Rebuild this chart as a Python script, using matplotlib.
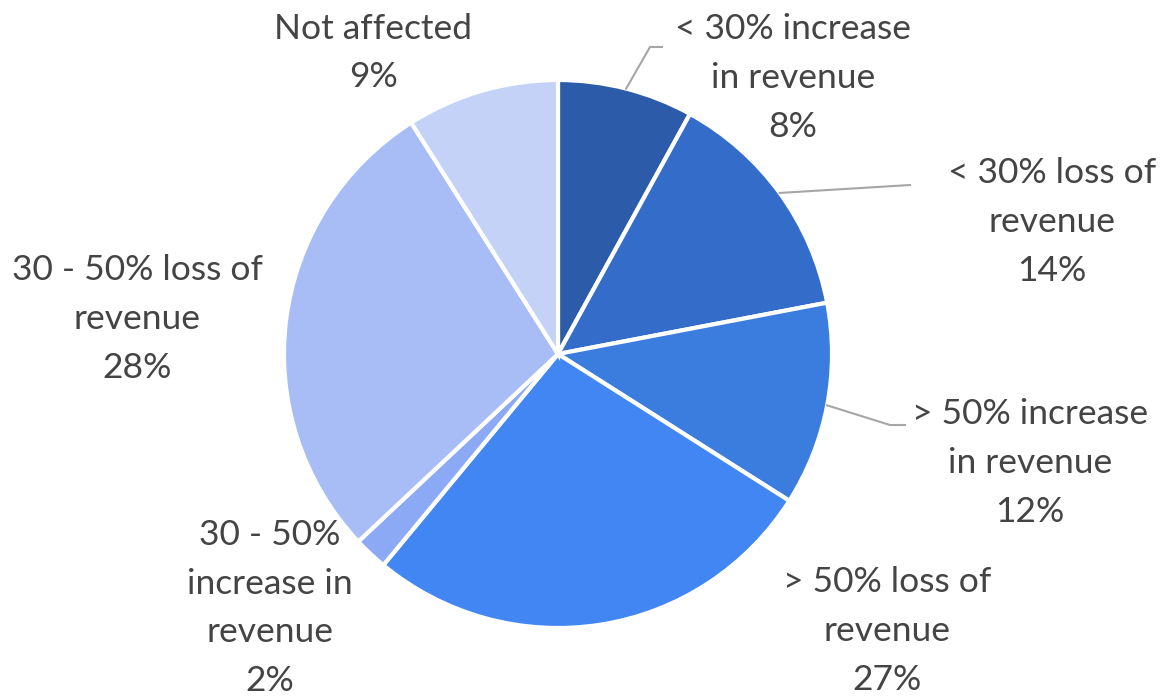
import numpy as np
import matplotlib.pyplot as plt

# Importing the data
labels = ['< 30% increase\nin revenue', '< 30% loss of\nrevenue', '> 50% increase\nin revenue',
          '> 50% loss of\nrevenue', '30 - 50%\nincrease in\nrevenue', '30 - 50% loss of\nrevenue',
          'Not affected']
shares = [8, 14, 12, 27, 2, 28, 9]
colors = ['#2C5BAA', '#346DC9', '#3B7CDF', '#4286F4', '#8BA9F5', '#A8BCF6', '#C5D2F8']

W, H = 1170, 700
cx, cy, R = 558, 354, 274

fig = plt.figure(figsize=(W / 100, H / 100), dpi=100)
ax = fig.add_axes([(cx - R) / W, (H - cy - R) / H, 2 * R / W, 2 * R / H])

wedges, _ = ax.pie(shares, colors=colors, startangle=90, counterclock=False,
                   wedgeprops=dict(linewidth=3, edgecolor='white'))
ax.set_xlim(-1, 1)
ax.set_ylim(-1, 1)

# label centres in pixels (layout only)
label_px = [(793, 78), (1052, 222), (1030, 463), (887, 631), (270, 608), (137, 319), (373, 53)]
for lab, val, (px, py) in zip(labels, shares, label_px):
    ax.text((px - cx) / R, (cy - py) / R, lab + '\n' + str(val) + '%', ha='center', va='center',
            fontsize=25.5, color='#444444', family='Lato', linespacing=1.64)

# leader lines: slice index -> elbow points in pixels
leaders = {0: [(650, 47), (662, 47)], 1: [(910, 185)], 2: [(890, 425), (905, 425)]}
for i, pts in leaders.items():
    w = wedges[i]
    a = np.deg2rad((w.theta1 + w.theta2) / 2)
    xs = [np.cos(a)] + [(p[0] - cx) / R for p in pts]
    ys = [np.sin(a)] + [(cy - p[1]) / R for p in pts]
    ax.plot(xs, ys, color='#A6A6A6', lw=1.5, clip_on=False)

fig.savefig('out.png', dpi=100)
